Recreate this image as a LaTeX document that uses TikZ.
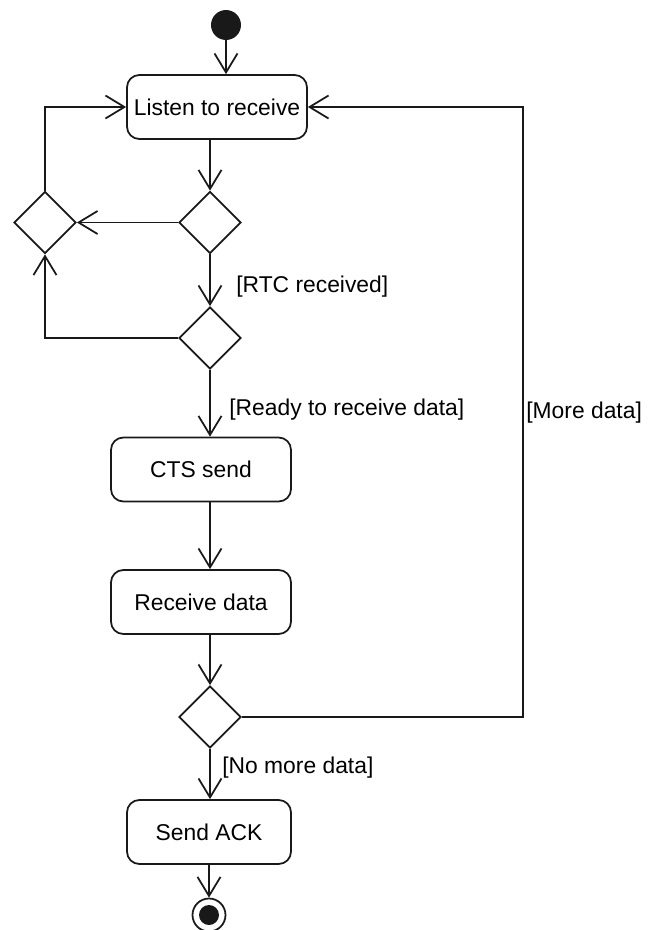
\documentclass[tikz,border=0pt]{standalone}
\usepackage{fontspec}
\setmainfont{Liberation Sans}
\usepackage{tikz}
\usetikzlibrary{shapes.geometric,arrows.meta,positioning,calc}
\definecolor{umlInk}{RGB}{25,25,25}

\begin{document}
\begin{tikzpicture}[x=0.02cm,y=-0.02cm,
    action/.style={draw=umlInk,line width=1pt,rounded corners=7pt,minimum width=3.6cm,minimum height=1.28cm,font=\fontsize{13}{15}\selectfont},
    decision/.style={draw=umlInk,line width=1pt,diamond,aspect=1,minimum size=1.24cm,inner sep=0pt},
    flow/.style={draw=umlInk,line width=1pt,-{Straight Barb[length=0.38cm,width=0.46cm]}},
    guard/.style={font=\fontsize{13}{15}\selectfont,inner sep=0pt,anchor=west}]
    \useasboundingbox (0,0) rectangle (647,930);
    % start and end
    \node[circle,fill=umlInk,minimum size=0.6cm,inner sep=0pt] (start) at (226,25) {};
    \node[circle,draw=umlInk,line width=1pt,minimum size=0.66cm,inner sep=0pt] (stop) at (209,915) {};
    \fill[umlInk] (stop) circle (0.2cm);
    % actions and decisions
    \node[action] (listen) at (217,107) {Listen to receive};
    \node[decision] (dec1) at (210,222.5) {};
    \node[decision] (merge) at (45,222.5) {};
    \node[decision] (dec2) at (210,338) {};
    \node[action] (cts) at (201,469.5) {CTS send};
    \node[action] (recv) at (201,602) {Receive data};
    \node[decision] (dec3) at (210,717) {};
    \node[action,minimum width=3.28cm] (ack) at (209,832) {Send ACK};
    \coordinate (bend) at (523,717);
    % flows
    \draw[flow] (start) -- (start |- listen.north);
    \draw[flow] (listen.south -| dec1) -- (dec1.north);
    \draw[flow] (dec1.west) -- (merge.east);
    \draw[flow] (dec1.south) -- (dec2.north);
    \draw[flow] (dec2.west) -| (merge.south);
    \draw[flow] (merge.north) |- (listen.west);
    \draw[flow] (dec2.south) -- (cts.north -| dec2);
    \draw[flow] (cts.south -| dec2) -- (recv.north -| dec2);
    \draw[flow] (recv.south -| dec3) -- (dec3.north);
    \draw[flow] (dec3.east) -- (bend) |- (listen.east);
    \draw[flow] (dec3.south) -- (ack.north -| dec3);
    \draw[flow] (ack.south -| stop) -- (stop.north);
    % guards
    \node[guard] (gRtc) at (236,287) {[RTC received]};
    \node[guard] (gReady) at (229,410) {[Ready to receive data]};
    \node[guard] (gMore) at (526,413) {[More data]};
    \node[guard] (gNoMore) at (222,768) {[No more data]};
\end{tikzpicture}
\end{document}
